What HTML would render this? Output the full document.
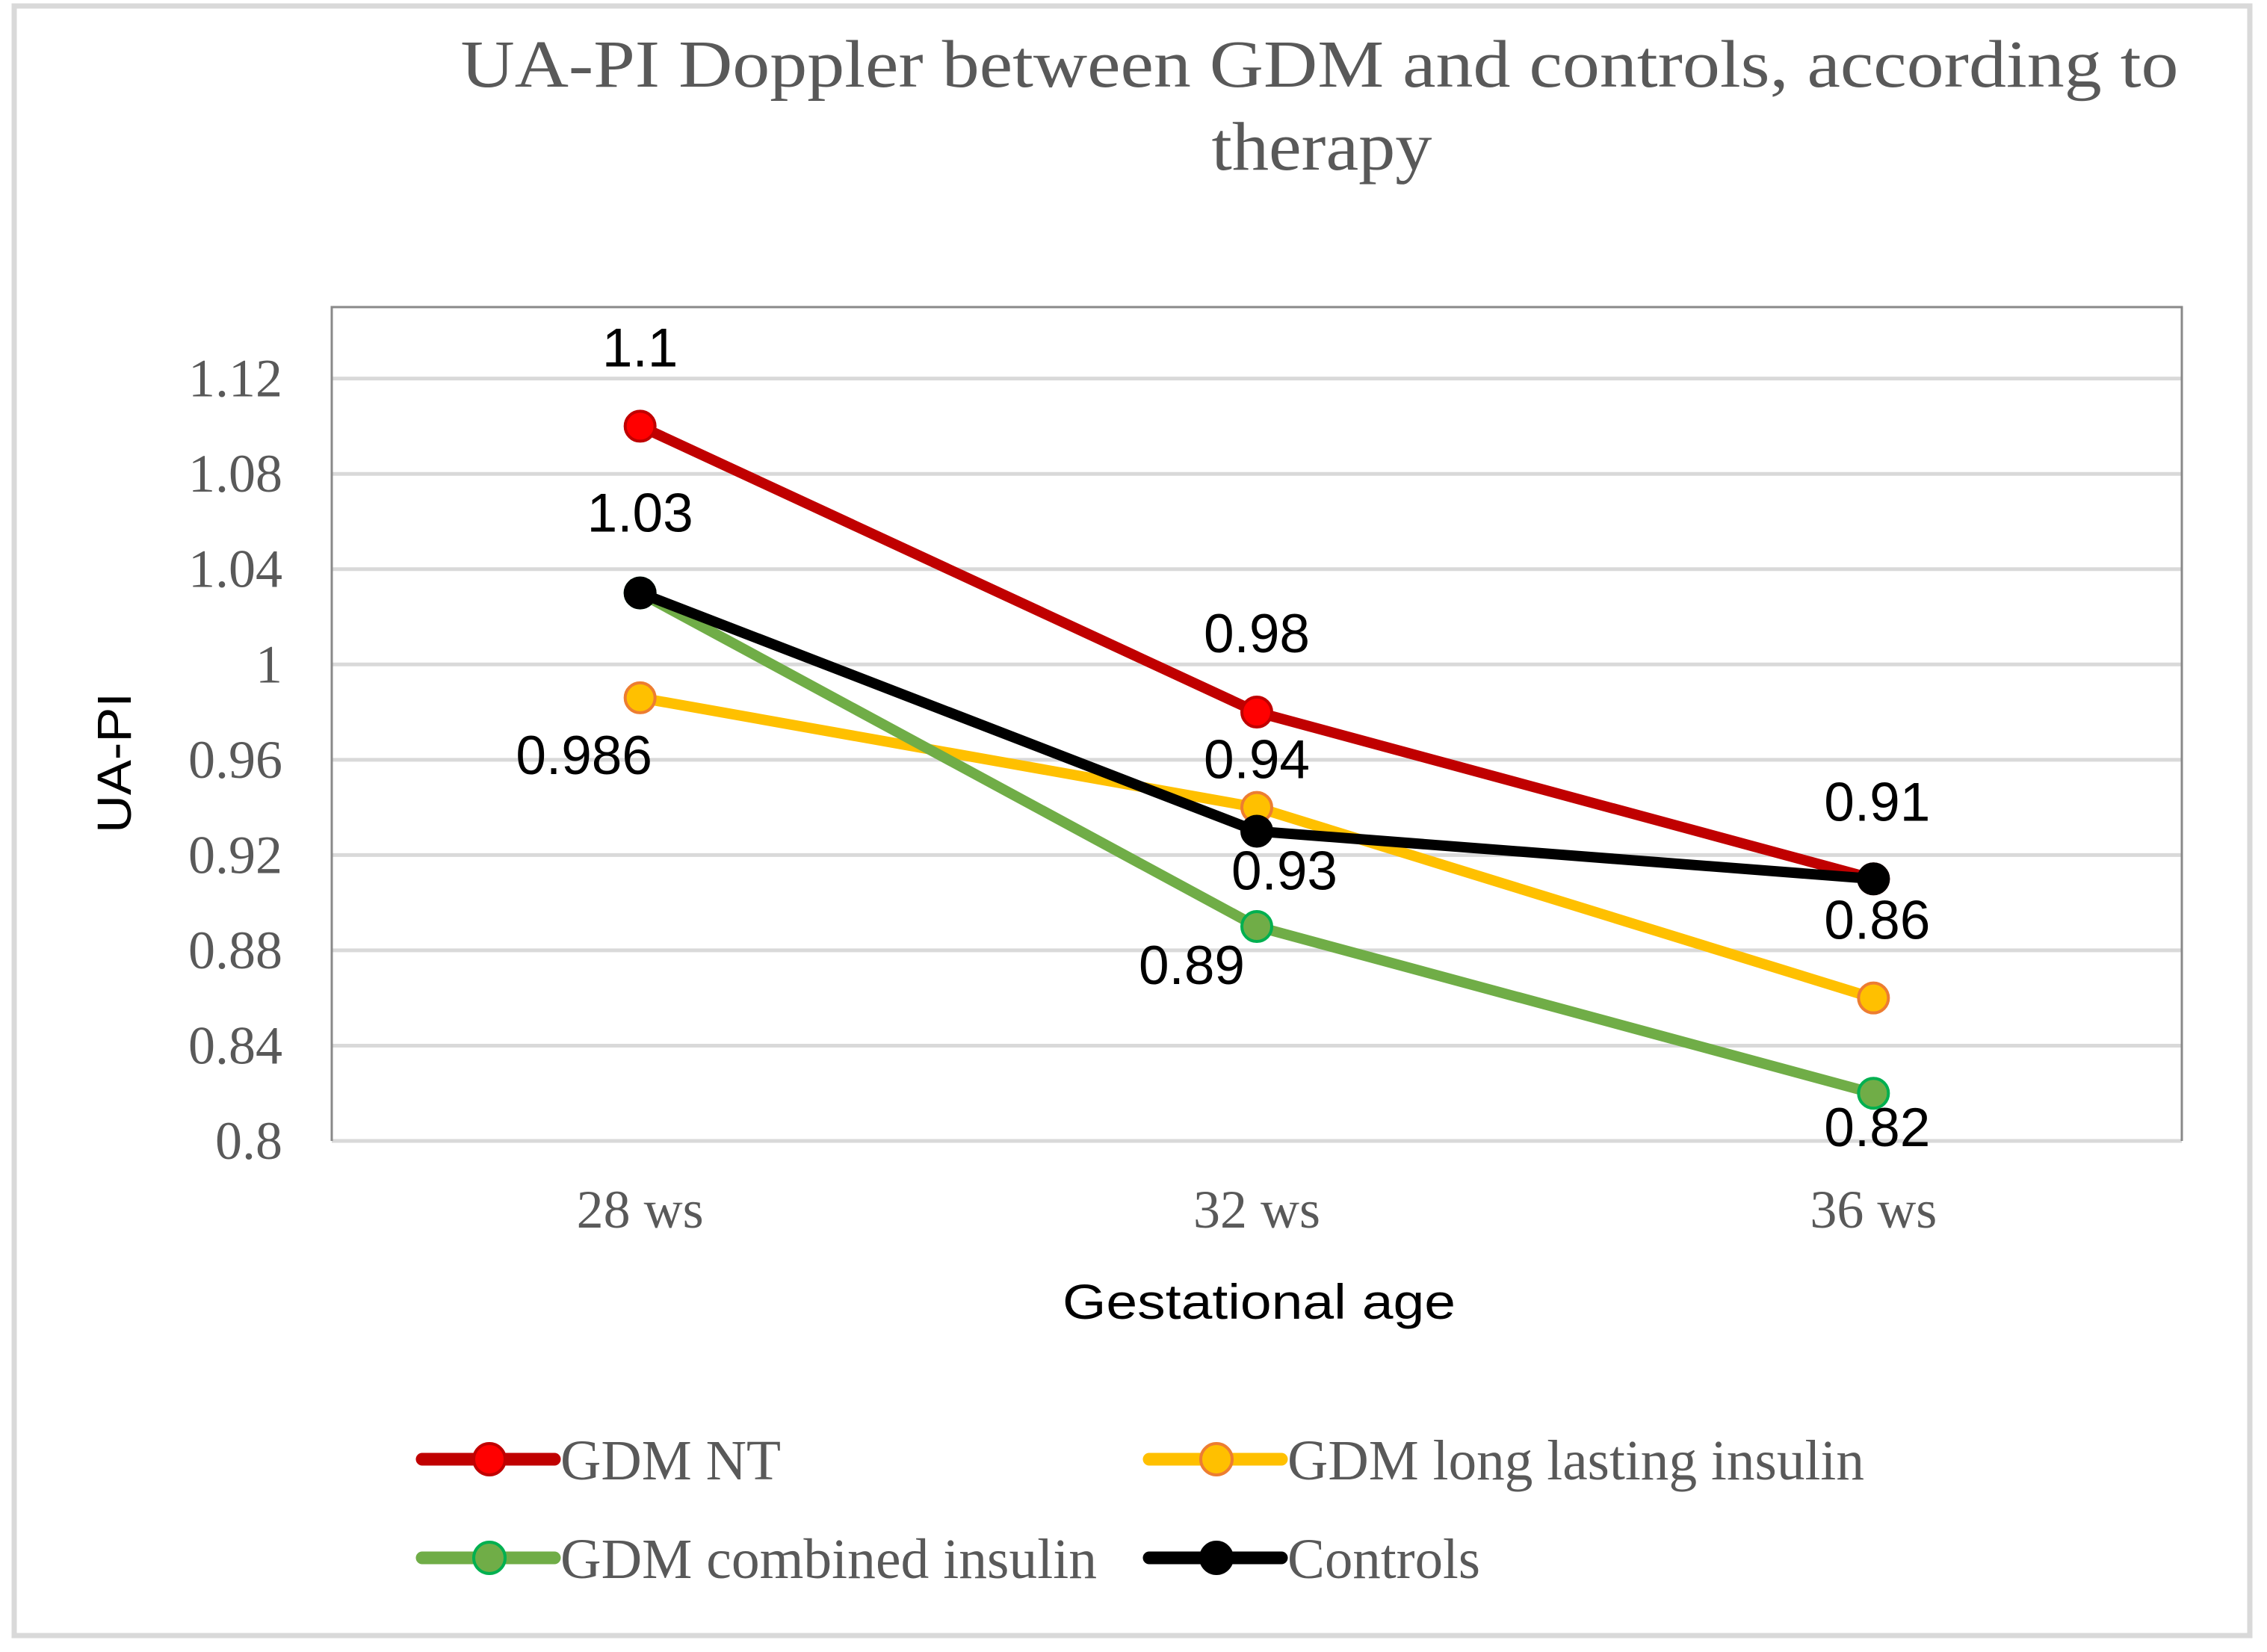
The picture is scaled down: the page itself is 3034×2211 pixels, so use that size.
<!DOCTYPE html>
<html><head><meta charset="utf-8"><style>
html,body{margin:0;padding:0;background:#fff;}
svg{display:block;}
</style></head>
<body>
<svg id="chart" width="3034" height="2211" viewBox="0 0 3034 2211" xmlns="http://www.w3.org/2000/svg">
<rect x="19" y="8" width="2992" height="2181" fill="#fff" stroke="#d9d9d9" stroke-width="7"/>
<text x="1766" y="116" text-anchor="middle" font-family="Liberation Serif, serif" font-size="90" fill="#595959" textLength="2299" lengthAdjust="spacingAndGlyphs">UA-PI Doppler between GDM and controls, according to</text>
<text x="1769" y="227" text-anchor="middle" font-family="Liberation Serif, serif" font-size="92" fill="#595959" textLength="295" lengthAdjust="spacingAndGlyphs">therapy</text>
<g id="grid"></g>
<g id="plot"></g>
<text transform="translate(175,1021) rotate(-90)" text-anchor="middle" font-family="Liberation Sans, sans-serif" font-size="64" fill="#000" textLength="188" lengthAdjust="spacingAndGlyphs">UA-PI</text>
<text x="1685" y="1765" text-anchor="middle" font-family="Liberation Sans, sans-serif" font-size="66" fill="#000" textLength="526" lengthAdjust="spacingAndGlyphs">Gestational age</text>
<g id="legend"></g>
</svg>
<script>
const categories = ["28 ws", "32 ws", "36 ws"];
const seriesNames = ["GDM NT", "GDM long lasting insulin", "GDM combined insulin", "Controls"];
const gdmNT = [1.1, 0.98, 0.91];
const gdmLong = [0.986, 0.94, 0.86];
const gdmCombined = [1.03, 0.89, 0.82];
const controls = [1.03, 0.93, 0.91];
const yTicks = [0.8, 0.84, 0.88, 0.92, 0.96, 1, 1.04, 1.08, 1.12];
const yTickLabels = ["0.8", "0.84", "0.88", "0.92", "0.96", "1", "1.04", "1.08", "1.12"];

const NS = "http://www.w3.org/2000/svg";
const L = 444, R = 2920, T = 411, B = 1527;
const yMin = 0.8, yMax = 1.15;
function yScale(v){ return B - (v - yMin) / (yMax - yMin) * (B - T); }
function xScale(i){ const w = (R - L) / categories.length; return L + w * (i + 0.5); }
function mk(tag, attrs, parent){ const e = document.createElementNS(NS, tag); for (const k in attrs) e.setAttribute(k, attrs[k]); parent.appendChild(e); return e; }

const grid = document.getElementById('grid');
const plot = document.getElementById('plot');
const legend = document.getElementById('legend');

yTicks.forEach((t, i) => {
  const y = yScale(t);
  const g = mk('line', {x1: L, x2: R, y1: y, y2: y, stroke: '#d9d9d9', 'stroke-width': 5}, grid);
  
  
  const tl = mk('text', {x: 378, y: y + 24, 'text-anchor': 'end', 'font-family': 'Liberation Serif, serif', 'font-size': 72, fill: '#595959'}, grid);
  tl.textContent = yTickLabels[i];
  
  
});
const border = mk('polyline', {points: `${L},${B} ${L},${T} ${R},${T} ${R},${B}`, fill: 'none', stroke: '#898989', 'stroke-width': 3}, grid);



categories.forEach((c, i) => {
  const t = mk('text', {x: xScale(i), y: 1643, 'text-anchor': 'middle', 'font-family': 'Liberation Serif, serif', 'font-size': 72, fill: '#595959'}, grid);
  t.textContent = c;
  
  
});

const seriesData = [gdmNT, gdmLong, gdmCombined, controls];
const lineColors = ['#C00000', '#FFC000', '#70AD47', '#000000'];
const fillColors = ['#FF0000', '#FFC000', '#70AD47', '#000000'];
const strokeColors = ['#C00000', '#ED7D31', '#00B050', '#000000'];
const seriesKeys = ['gdm-nt', 'gdm-long-lasting-insulin', 'gdm-combined-insulin', 'controls'];

seriesData.forEach((vals, s) => {
  const pts = vals.map((v, i) => xScale(i) + ',' + yScale(v)).join(' ');
  const pl = mk('polyline', {points: pts, fill: 'none', stroke: lineColors[s], 'stroke-width': 14, 'stroke-linejoin': 'round'}, plot);
  
  
  vals.forEach((v, i) => {
    const c = mk('circle', {cx: xScale(i), cy: yScale(v), r: 20, fill: fillColors[s], stroke: strokeColors[s], 'stroke-width': 4}, plot);
    
    
  });
});

// data labels: [series, index, dx, dy]
const labelSpecs = [[0,0,0,-105],[3,0,0,-107],[1,0,-75,77],[0,1,0,-105],[1,1,0,-64],[3,1,37,53],[2,1,-87,52],[0,2,5,-103],[1,2,5,-104],[2,2,5,46]];
labelSpecs.forEach(([s, i, dx, dy]) => {
  const v = seriesData[s][i];
  const t = mk('text', {x: xScale(i) + dx, y: yScale(v) + dy + 25, 'text-anchor': 'middle', 'font-family': 'Liberation Sans, sans-serif', 'font-size': 73, fill: '#000'}, plot);
  t.textContent = String(v);
  
  
});

const legendPos = [[565, 1953], [1538, 1953], [565, 2085], [1538, 2085]];
const legendLen = [295, 772, 718, 258];
seriesNames.forEach((n, s) => {
  const [x, y] = legendPos[s];
  const g = mk('g', {}, legend);
  
  
  mk('line', {x1: x, x2: x + 177, y1: y, y2: y, stroke: lineColors[s], 'stroke-width': 17, 'stroke-linecap': 'round'}, g);
  mk('circle', {cx: x + 90, cy: y, r: 21, fill: fillColors[s], stroke: strokeColors[s], 'stroke-width': 4}, g);
  const t = mk('text', {x: x + 185, y: y + 27, 'font-family': 'Liberation Serif, serif', 'font-size': 76, fill: '#595959', textLength: legendLen[s], lengthAdjust: 'spacingAndGlyphs'}, g);
  t.textContent = n;
});
</script>
</body></html>
